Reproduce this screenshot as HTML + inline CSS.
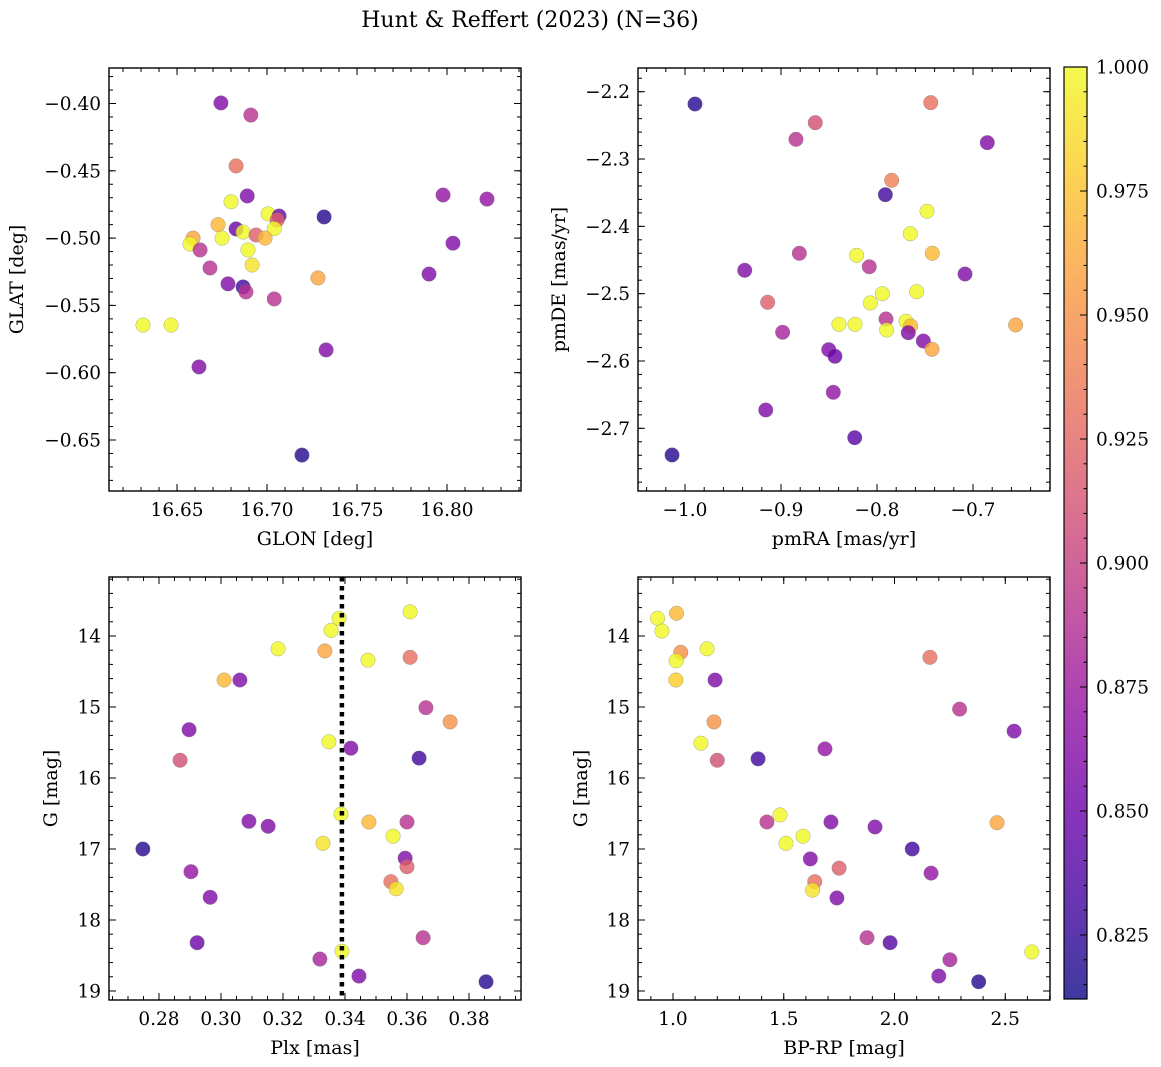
<!DOCTYPE html>
<html><head><meta charset="utf-8">
<style>
html,body{margin:0;padding:0;background:#fff;}
svg{display:block;font-family:"DejaVu Serif","Liberation Serif",serif;}
</style></head>
<body>
<svg id="fig" width="1161" height="1067" viewBox="0 0 1161 1067" xmlns="http://www.w3.org/2000/svg">
<defs>
<linearGradient id="cmap" x1="0" y1="1" x2="0" y2="0"></linearGradient>
</defs>
<text x="530" y="27" font-size="22" text-anchor="middle">Hunt &amp; Reffert (2023) (N=36)</text>
</svg>
<script>
// Panel 1: GLON vs GLAT
const p1Lon=[16.6744,16.691,16.6828,16.680,16.689,16.6728,16.7006,16.7067,16.7056,16.704,16.7317,16.6828,16.6867,16.6939,16.6989,16.6589,16.6572,16.6628,16.675,16.6894,16.6917,16.6683,16.6783,16.6867,16.6883,16.704,16.7283,16.6311,16.6467,16.6622,16.7328,16.79,16.7194,16.7978,16.8222,16.8033];
const p1Lat=[-0.3996,-0.4086,-0.4464,-0.473,-0.4687,-0.490,-0.482,-0.4836,-0.4866,-0.493,-0.4843,-0.4932,-0.4955,-0.4977,-0.500,-0.500,-0.5044,-0.5088,-0.500,-0.5088,-0.520,-0.5222,-0.534,-0.5363,-0.540,-0.5452,-0.5296,-0.5646,-0.5646,-0.5957,-0.5831,-0.5267,-0.6612,-0.468,-0.471,-0.5038];
const p1Prob=[0.86,0.89,0.93,1.0,0.86,0.97,1.0,0.85,0.92,1.0,0.82,0.85,1.0,0.92,0.97,0.96,1.0,0.89,1.0,1.0,0.99,0.89,0.86,0.83,0.89,0.89,0.96,1.0,1.0,0.86,0.86,0.86,0.82,0.87,0.87,0.86];
// Panel 2: pmRA vs pmDE
const p2Pmra=[-0.9896,-0.744,-0.8643,-0.8844,-0.6851,-0.7847,-0.7913,-0.7479,-0.7653,-0.7424,-0.8809,-0.8212,-0.808,-0.9378,-0.7083,-0.9139,-0.7944,-0.7587,-0.807,-0.8396,-0.8229,-0.7906,-0.7899,-0.7698,-0.7649,-0.7674,-0.7517,-0.7427,-0.6556,-0.8983,-0.8503,-0.8438,-0.8455,-0.9159,-0.8232,-1.0135];
const p2Pmde=[-2.2183,-2.2163,-2.246,-2.2707,-2.2757,-2.3316,-2.353,-2.3776,-2.4109,-2.44,-2.44,-2.443,-2.46,-2.4653,-2.4708,-2.5128,-2.5,-2.497,-2.5138,-2.5455,-2.5455,-2.5376,-2.554,-2.541,-2.548,-2.558,-2.5703,-2.5826,-2.5465,-2.5573,-2.5832,-2.593,-2.6465,-2.6728,-2.7139,-2.7396];
const p2Prob=[0.82,0.93,0.91,0.89,0.86,0.94,0.83,1.0,1.0,0.97,0.89,1.0,0.89,0.86,0.86,0.92,1.0,1.0,1.0,1.0,1.0,0.89,1.0,1.0,0.97,0.86,0.86,0.96,0.96,0.88,0.86,0.85,0.87,0.86,0.84,0.82];
// Panel 3: Plx vs G
const p3Plx=[0.361,0.3381,0.3355,0.3184,0.3335,0.361,0.3474,0.301,0.3061,0.3661,0.3739,0.2897,0.3348,0.3419,0.2868,0.3639,0.309,0.3152,0.3387,0.3477,0.360,0.3555,0.3329,0.2748,0.3594,0.360,0.2903,0.3548,0.3565,0.2965,0.2923,0.3652,0.339,0.3319,0.3445,0.3855];
const p3G=[13.66,13.75,13.92,14.18,14.21,14.30,14.34,14.62,14.62,15.01,15.21,15.32,15.49,15.58,15.75,15.72,16.61,16.68,16.51,16.62,16.62,16.82,16.92,17.0,17.13,17.25,17.32,17.46,17.56,17.68,18.32,18.25,18.44,18.55,18.79,18.87];
const p3Prob=[1.0,1.0,1.0,1.0,0.96,0.93,1.0,0.97,0.86,0.89,0.95,0.86,1.0,0.86,0.91,0.83,0.86,0.86,1.0,0.97,0.89,1.0,0.99,0.82,0.86,0.92,0.87,0.93,0.99,0.86,0.85,0.89,1.0,0.88,0.86,0.82];
const plxRef=[0.339];
// Panel 4: BP-RP vs G
const p4Col=[0.93,0.95,1.016,1.035,1.014,1.154,1.013,1.19,1.185,1.126,1.20,1.384,1.686,2.16,2.294,2.54,1.483,1.424,1.713,1.912,2.463,1.587,1.51,2.08,1.62,1.75,2.165,1.64,1.63,1.74,1.876,1.98,2.62,2.25,2.20,2.38];
const p4G=[13.75,13.93,13.68,14.23,14.35,14.18,14.62,14.62,15.21,15.51,15.75,15.73,15.59,14.30,15.03,15.34,16.52,16.62,16.62,16.69,16.63,16.82,16.92,17.0,17.14,17.27,17.34,17.46,17.58,17.69,18.25,18.32,18.45,18.56,18.79,18.87];
const p4Prob=[1.0,1.0,0.97,0.95,1.0,1.0,0.98,0.86,0.95,1.0,0.91,0.83,0.87,0.93,0.89,0.86,1.0,0.89,0.86,0.86,0.96,1.0,1.0,0.83,0.86,0.92,0.87,0.93,0.99,0.86,0.89,0.84,1.0,0.88,0.86,0.82];
const cbTicks=[0.825,0.850,0.875,0.900,0.925,0.950,0.975,1.000];

const NS="http://www.w3.org/2000/svg";
const svg=document.getElementById('fig');
function el(tag,attrs,parent){const e=document.createElementNS(NS,tag);for(const k in attrs)e.setAttribute(k,attrs[k]);(parent||svg).appendChild(e);return e;}
const stops=[[0,[13,8,135]],[0.1,[65,4,157]],[0.2,[106,0,168]],[0.3,[143,13,164]],[0.4,[177,42,144]],[0.5,[204,71,120]],[0.6,[225,100,98]],[0.7,[242,132,75]],[0.8,[252,166,54]],[0.9,[252,206,37]],[1,[240,249,33]]];
const VMIN=0.8121,VMAX=1.0;
function plasma(t){t=Math.max(0,Math.min(1,t));for(let i=1;i<stops.length;i++){if(t<=stops[i][0]){const a=stops[i-1],b=stops[i];const f=(t-a[0])/(b[0]-a[0]);const c=a[1].map((v,j)=>Math.round(v+(b[1][j]-v)*f));return 'rgb('+c.join(',')+')';}}return 'rgb(240,249,33)';}
function fmt(v,d){return v.toFixed(d).replace('-','\u2212');}
const TFS=18.5, LFS=19;

function panel(o){
  const g=el('g',{});
  
  
  const sx=v=>o.L+(v-o.xd[0])/(o.xd[1]-o.xd[0])*(o.R-o.L);
  const sy=v=>o.T+(v-o.yd[0])/(o.yd[1]-o.yd[0])*(o.B-o.T);
  function xt(step,len,lab,dec){
    const a=Math.ceil(Math.min(o.xd[0],o.xd[1])/step-1e-9),b=Math.floor(Math.max(o.xd[0],o.xd[1])/step+1e-9);
    for(let k=a;k<=b;k++){const v=k*step,x=sx(v);
      el('line',{x1:x,x2:x,y1:o.B,y2:o.B-len,stroke:'#000','stroke-width':1},g);
      el('line',{x1:x,x2:x,y1:o.T,y2:o.T+len,stroke:'#000','stroke-width':1},g);
      if(lab){const t=el('text',{x:x,y:o.B+25,'font-size':TFS,'text-anchor':'middle'},g);t.textContent=fmt(v,dec);
        
        }
    }
  }
  function yt(step,len,lab,dec){
    const a=Math.ceil(Math.min(o.yd[0],o.yd[1])/step-1e-9),b=Math.floor(Math.max(o.yd[0],o.yd[1])/step+1e-9);
    for(let k=a;k<=b;k++){const v=k*step,y=sy(v);
      el('line',{x1:o.L,x2:o.L+len,y1:y,y2:y,stroke:'#000','stroke-width':1},g);
      el('line',{x1:o.R,x2:o.R-len,y1:y,y2:y,stroke:'#000','stroke-width':1},g);
      if(lab){const t=el('text',{x:o.L-8,y:y+6.5,'font-size':TFS,'text-anchor':'end'},g);t.textContent=fmt(v,dec);
        
        }
    }
  }
  xt(o.xmin,4,false);xt(o.xmaj,7,true,o.xdec);
  yt(o.ymin,4,false);yt(o.ymaj,7,true,o.ydec);
  for(let i=0;i<o.xs.length;i++){
    const c=el('circle',{cx:sx(o.xs[i]),cy:sy(o.ys[i]),r:7.3,fill:plasma((o.ps[i]-VMIN)/(VMAX-VMIN)),'fill-opacity':0.8,stroke:'#777','stroke-opacity':0.6,'stroke-width':0.5},g);
    
    
  }
  if(o.vlineTop){o.vlineTop.forEach(v=>{const l=el('line',{x1:sx(v),x2:sx(v),y1:o.T,y2:o.B,stroke:'#000','stroke-width':4.5,'stroke-dasharray':'4.5 4.5'},g);
    
    });}
  const f=el('rect',{x:o.L,y:o.T,width:o.R-o.L,height:o.B-o.T,fill:'none',stroke:'#000','stroke-width':1.4},g);
  
  
  const xl=el('text',{x:(o.L+o.R)/2,y:o.B+54,'font-size':LFS,'text-anchor':'middle'},g);xl.textContent=o.xlab;
  
  
  const yx=o.ylx,yy=(o.T+o.B)/2;
  const yl=el('text',{x:yx,y:yy,'font-size':LFS,'text-anchor':'middle',transform:'rotate(-90 '+yx+' '+yy+')'},g);yl.textContent=o.ylab;
  
  
}
panel({name:'glon-glat-panel',L:109,R:521,T:68,B:491,xd:[16.6122,16.8411],yd:[-0.37363,-0.68789],xmaj:0.05,xmin:0.01,xdec:2,ymaj:0.05,ymin:0.01,ydec:2,xs:p1Lon,ys:p1Lat,ps:p1Prob,xlab:'GLON [deg]',ylab:'GLAT [deg]',ylx:23});
panel({name:'pm-panel',L:638,R:1050,T:68,B:491,xd:[-1.04896,-0.61979],yd:[-2.1648,-2.7931],xmaj:0.1,xmin:0.02,xdec:1,ymaj:0.1,ymin:0.02,ydec:1,xs:p2Pmra,ys:p2Pmde,ps:p2Prob,xlab:'pmRA [mas/yr]',ylab:'pmDE [mas/yr]',ylx:565});
panel({name:'plx-g-panel',L:109,R:521,T:577,B:1000,xd:[0.26387,0.39677],yd:[13.169,19.127],xmaj:0.02,xmin:0.005,xdec:2,ymaj:1,ymin:0.2,ydec:0,xs:p3Plx,ys:p3G,ps:p3Prob,xlab:'Plx [mas]',ylab:'G [mag]',ylx:57,vlineTop:plxRef});
panel({name:'cmd-panel',L:638,R:1050,T:577,B:1000,xd:[0.842,2.702],yd:[13.169,19.127],xmaj:0.5,xmin:0.1,xdec:1,ymaj:1,ymin:0.2,ydec:0,xs:p4Col,ys:p4G,ps:p4Prob,xlab:'BP-RP [mag]',ylab:'G [mag]',ylx:587});

const grad=document.getElementById('cmap');
for(let i=0;i<=20;i++){const t=i/20;el('stop',{offset:t,'stop-color':plasma(t)},grad);}
const cb=el('g',{});


const CT=67,CB=999,CL=1064,CR=1087;
el('rect',{x:CL,y:CT,width:CR-CL,height:CB-CT,fill:'url(#cmap)','fill-opacity':0.8},cb);
const cy=v=>CB-(v-VMIN)/(VMAX-VMIN)*(CB-CT);
for(let k=Math.ceil(VMIN/0.005);k<=Math.floor(VMAX/0.005+1e-9);k++){const y=cy(k*0.005);el('line',{x1:CR,x2:CR-3.5,y1:y,y2:y,stroke:'#000','stroke-width':1},cb);}
cbTicks.forEach(v=>{const y=cy(v);el('line',{x1:CR,x2:CR-7,y1:y,y2:y,stroke:'#000','stroke-width':1},cb);
  const t=el('text',{x:CR+9,y:y+6.5,'font-size':TFS},cb);t.textContent=v.toFixed(3);
  
  });
el('rect',{x:CL,y:CT,width:CR-CL,height:CB-CT,fill:'none',stroke:'#000','stroke-width':1.2},cb);
</script>
</body></html>
